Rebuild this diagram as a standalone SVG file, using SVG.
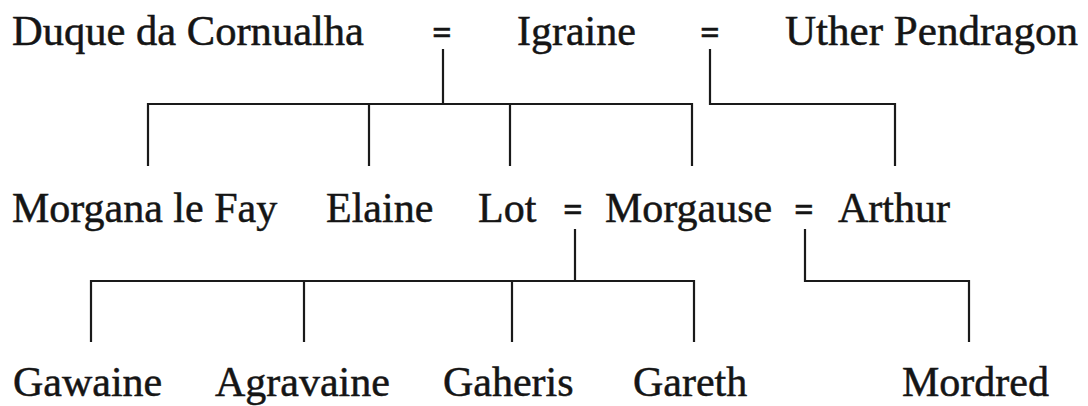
<svg xmlns="http://www.w3.org/2000/svg" width="1088" height="406" viewBox="0 0 1088 406">
<style>
text{font-family:"Liberation Serif","Times New Roman",serif;font-size:42px;fill:#151515;stroke:#151515;stroke-width:0.5}
.eq{font-size:34px;font-weight:bold;text-anchor:middle}
.ln{fill:none;stroke:#1a1a1a;stroke-width:2.2;stroke-linecap:square}
</style>
<rect width="1088" height="406" fill="#fff"/>
<g id="connectors">
<path class="ln" d="M443,50V104M148,104H692M148,104V165M369,104V165M510,104V165M692,104V165"/>
<path class="ln" d="M710,50V104H895V165"/>
<path class="ln" d="M575,230V281M91,281H694M91,281V341M304,281V341M512,281V341M694,281V341"/>
<path class="ln" d="M805,230V281H969V341"/>
</g>
<g id="duque"><text x="12" y="45" textLength="352" lengthAdjust="spacingAndGlyphs">Duque da Cornualha</text></g>
<g id="eq1"><text class="eq" x="442" y="44">=</text></g>
<g id="igraine"><text x="517" y="45">Igraine</text></g>
<g id="eq2"><text class="eq" x="710" y="44">=</text></g>
<g id="uther"><text x="785" y="45" textLength="293" lengthAdjust="spacingAndGlyphs">Uther Pendragon</text></g>
<g id="morgana"><text x="12" y="222">Morgana le Fay</text></g>
<g id="elaine"><text x="326" y="222">Elaine</text></g>
<g id="lot"><text x="478" y="222">Lot</text></g>
<g id="eq3"><text class="eq" x="573" y="221">=</text></g>
<g id="morgause"><text x="605" y="222">Morgause</text></g>
<g id="eq4"><text class="eq" x="804" y="221">=</text></g>
<g id="arthur"><text x="838" y="222">Arthur</text></g>
<g id="gawaine"><text x="13" y="396">Gawaine</text></g>
<g id="agravaine"><text x="215" y="396">Agravaine</text></g>
<g id="gaheris"><text x="443" y="396">Gaheris</text></g>
<g id="gareth"><text x="633" y="396">Gareth</text></g>
<g id="mordred"><text x="902" y="396">Mordred</text></g>
</svg>
